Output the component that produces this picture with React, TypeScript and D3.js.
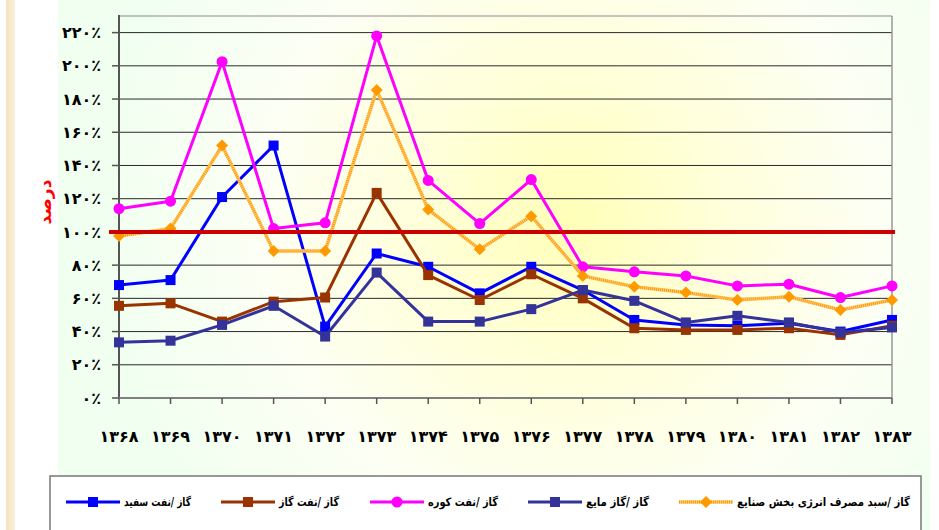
import React from 'react';
import * as d3 from 'd3';

// سال‌ها (محور افقی)
const years = ['۱۳۶۸', '۱۳۶۹', '۱۳۷۰', '۱۳۷۱', '۱۳۷۲', '۱۳۷۳', '۱۳۷۴', '۱۳۷۵',
  '۱۳۷۶', '۱۳۷۷', '۱۳۷۸', '۱۳۷۹', '۱۳۸۰', '۱۳۸۱', '۱۳۸۲', '۱۳۸۳'];

const gasKerosene = [68, 71, 121, 152, 43, 87, 79, 63, 79, 65, 47, 44, 43.5, 45, 40, 47];
const gasGasoil = [55.5, 57, 46, 58, 60.5, 123.5, 74, 59, 74.5, 60, 42, 41, 41, 42, 38, 43.5];
const gasFuelOil = [114, 118.5, 202.5, 102, 105.5, 218, 131, 105, 131.5, 79, 76, 73.5, 67.5, 68.5, 60.5, 67.5];
const gasLpg = [33.5, 34.5, 44, 55.5, 37, 75.5, 46, 46, 53.5, 65, 58.5, 45.5, 49.5, 45.5, 39.5, 42.5];
const gasIndustry = [97.5, 102, 152, 88.5, 88.5, 185.5, 113.5, 89.5, 109.5, 73.5, 67, 63.5, 59, 61, 53, 59];

const yTicks = [0, 20, 40, 60, 80, 100, 120, 140, 160, 180, 200, 220];
const refLine = 100;

const seriesNames = ['گاز /نفت سفید', 'گاز /نفت گاز', 'گاز /نفت کوره', 'گاز /گاز مایع', 'گاز /سبد مصرف انرژی بخش صنایع'];

const toFa = (n: number) => String(n).replace(/\d/g, d => '۰۱۲۳۴۵۶۷۸۹'[+d]);

const series = [
  { name: seriesNames[0], values: gasKerosene, color: '#0000ff', marker: 'square', legendX: 66, textW: 67 },
  { name: seriesNames[1], values: gasGasoil, color: '#993300', marker: 'square', legendX: 221, textW: 60 },
  { name: seriesNames[2], values: gasFuelOil, color: '#ff00ff', marker: 'circle', legendX: 370, textW: 70 },
  { name: seriesNames[3], values: gasLpg, color: '#333399', marker: 'square', legendX: 528, textW: 63 },
  { name: seriesNames[4], values: gasIndustry, color: '#ff9900', marker: 'diamond', legendX: 679, textW: 173 },
];

const FONT = '"DejaVu Sans", sans-serif';

function Marker({ type, x, y, color }: { type: string; x: number; y: number; color: string }) {
  if (type === 'circle') return <circle cx={x} cy={y} r={5.5} fill={color} />;
  if (type === 'diamond') {
    const s = 6;
    return <path d={`M${x},${y - s}L${x + s},${y}L${x},${y + s}L${x - s},${y}Z`} fill={color} />;
  }
  return <rect x={x - 5} y={y - 5} width={10} height={10} fill={color} />;
}

export default function App() {
  const x = d3.scalePoint<string>().domain(years).range([119, 892]);
  const y = d3.scaleLinear().domain([0, 230]).range([398, 16]);
  const line = d3.line<number>().x((_, i) => x(years[i])!).y(d => y(d));

  return (
    <svg width={939} height={530} style={{ position: 'absolute', left: 0, top: 0 }} fontFamily={FONT}>
      <defs>
        <radialGradient id="bg" gradientUnits="userSpaceOnUse" cx={570} cy={220} r={470}>
          <stop offset="0" stopColor="#ffffb8" />
          <stop offset="0.3" stopColor="#ffffd8" />
          <stop offset="0.65" stopColor="#fdfff4" />
          <stop offset="1" stopColor="#f0fff0" />
        </radialGradient>
        <linearGradient id="strip" x1="0" y1="0" x2="1" y2="0">
          <stop offset="0" stopColor="#f6e4c0" />
          <stop offset="1" stopColor="#fbf0dc" />
        </linearGradient>
      </defs>
      <rect width={939} height={530} fill="#ffffff" />
      <rect x={6} y={0} width={9} height={530} fill="url(#strip)" />
      <rect x={58} y={0} width={872} height={530} fill="url(#bg)" />

      {/* grid */}
      {yTicks.filter(t => t > 0).map(t => (
        <line key={t} x1={119} x2={892} y1={y(t)} y2={y(t)} stroke="#2a2a2a" strokeWidth={1} />
      ))}
      <line x1={119} x2={892} y1={16} y2={16} stroke="#b0b0b0" strokeWidth={1.5} />
      <line x1={892} x2={892} y1={16} y2={398} stroke="#999" strokeWidth={1.5} />

      {/* axes */}
      <line x1={119} x2={119} y1={15} y2={398} stroke="#555" strokeWidth={2} />
      <line x1={119} x2={892} y1={398} y2={398} stroke="#808080" strokeWidth={2} />
      {yTicks.map(t => (
        <g key={t}>
          <line x1={112} x2={119} y1={y(t)} y2={y(t)} stroke="#555" strokeWidth={1.5} />
          <text x={101} y={y(t)} dy="0.35em" textAnchor="end" fontSize={16} fontWeight="bold">
            {toFa(t) + '٪'}
          </text>
        </g>
      ))}
      {years.map(yr => (
        <g key={yr}>
          <line x1={x(yr)} x2={x(yr)} y1={398} y2={404} stroke="#555" strokeWidth={1.5} />
          <text x={x(yr)} y={442} textAnchor="middle" fontSize={16} fontWeight="bold">{yr}</text>
        </g>
      ))}
      <text transform="translate(51,202) rotate(-90)" textAnchor="middle" fontSize={17}
        fontWeight="bold" fill="#ff0000">درصد</text>

      {/* series */}
      {series.map(s => (
        <g key={s.name}>
          {s.marker === 'diamond' ? (
            <>
              <path d={line(s.values)!} fill="none" stroke="#ffcc77" strokeWidth={3.5} />
              <path d={line(s.values)!} fill="none" stroke={s.color} strokeWidth={3} strokeDasharray="1,1" />
            </>
          ) : (
            <path d={line(s.values)!} fill="none" stroke={s.color} strokeWidth={3} strokeLinejoin="round" />
          )}
          {s.values.map((v, i) => (
            <Marker key={i} type={s.marker} x={x(years[i])!} y={y(v)} color={s.color} />
          ))}
        </g>
      ))}

      {/* 100% reference */}
      <line x1={109} x2={895} y1={y(refLine)} y2={y(refLine)} stroke="#cc0000" strokeWidth={4} />

      {/* legend */}
      <rect x={50} y={476} width={871} height={80} fill="#ffffff" stroke="#777" strokeWidth={1.5} />
      {series.map(s => (
        <g key={s.name}>
          {s.marker === 'diamond' ? (
            <>
              <line x1={s.legendX} x2={s.legendX + 54} y1={502} y2={502} stroke="#ffcc77" strokeWidth={3.5} />
              <line x1={s.legendX} x2={s.legendX + 54} y1={502} y2={502} stroke={s.color} strokeWidth={3} strokeDasharray="1,1" />
            </>
          ) : (
            <line x1={s.legendX} x2={s.legendX + 54} y1={502} y2={502} stroke={s.color} strokeWidth={3} />
          )}
          <Marker type={s.marker} x={s.legendX + 27} y={502} color={s.color} />
          <text x={s.legendX + 58} y={502} dy="0.35em" fontSize={11.5} fontWeight="bold"
            textLength={s.textW} lengthAdjust="spacingAndGlyphs">{s.name}</text>
        </g>
      ))}
    </svg>
  );
}
